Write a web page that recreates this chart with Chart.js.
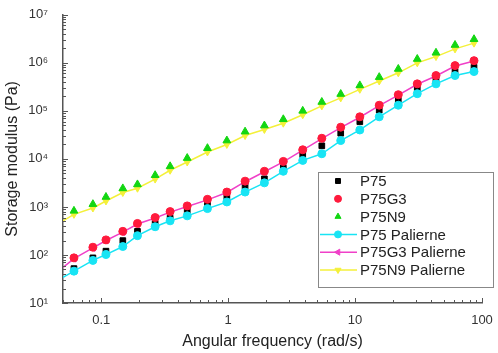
<!DOCTYPE html>
<html>
<head>
<meta charset="utf-8">
<script src="https://cdn.jsdelivr.net/npm/chart.js@4.4.0/dist/chart.umd.min.js"></script>
<style>
  html, body { margin: 0; padding: 0; background: #fff; }
  canvas { display: block; }
</style>
</head>
<body>
<canvas id="myChart" width="498" height="353"></canvas>
<script>
// angular frequency (rad/s) of the measured points
const freq = [0.061, 0.086, 0.109, 0.148, 0.193, 0.266, 0.349, 0.476, 0.687, 0.977,
  1.36, 1.93, 2.72, 3.87, 5.47, 7.71, 10.9, 15.5, 21.9, 30.9, 43.4, 61.3, 86.5];
// model curves start at the left edge of the axis
const freqModel = [0.05, 0.061, 0.086, 0.109, 0.148, 0.193, 0.266, 0.349, 0.476, 0.687, 0.977,
  1.36, 1.93, 2.72, 3.87, 5.47, 7.71, 10.9, 15.5, 21.9, 30.9, 43.4, 61.3, 86.5];

const p75 = [52, 87, 120, 199, 310, 453, 585, 828, 1190, 1560, 2710, 3840, 6460, 12200,
  18700, 34200, 59300, 103000, 166000, 298000, 451000, 659000, 808000];
const p75g3 = [87, 145, 206, 310, 453, 601, 800, 1050, 1440, 2040, 3440, 5520, 8870, 15500,
  26900, 45700, 75200, 131000, 217000, 365000, 544000, 875000, 1110000];
const p75n9 = [828, 1140, 1610, 2430, 2940, 4570, 7000, 10400, 16700, 24100, 36900, 49500,
  66800, 100000, 153000, 224000, 339000, 503000, 745000, 1200000, 1620000, 2350000, 3100000];

const p75Pal = [34, 46, 77, 102, 150, 252, 387, 514, 652, 923, 1270, 2040, 3170, 5520, 9310,
  12800, 24100, 40000, 75200, 131000, 228000, 365000, 544000, 659000];
const p75g3Pal = [55, 84, 140, 200, 300, 440, 590, 780, 1020, 1400, 2000, 3350, 5400, 8700,
  15200, 26300, 44800, 73700, 128000, 213000, 358000, 533000, 858000, 1090000];
const p75n9Pal = [514, 700, 950, 1330, 2000, 2450, 3800, 5800, 8600, 13900, 20000, 30600,
  41000, 55400, 83000, 127000, 186000, 281000, 418000, 620000, 1000000, 1350000, 1950000, 2570000];

const xTicks = [0.1, 1, 10, 100];
const yTicks = [10, 100, 1000, 10000, 100000, 1000000, 10000000];
const sup = ['⁰', '¹', '²', '³', '⁴', '⁵', '⁶', '⁷'];

const FONT = "'Liberation Sans', Arial, 'DejaVu Sans', sans-serif";

function pts(xs, ys) {
  return ys.map((v, i) => ({ x: xs[i], y: v }));
}

const series = [
  { label: 'P75', data: pts(freq, p75), color: '#000000', style: 'rect', rot: 0, line: false, order: 3, r: 4 },
  { label: 'P75G3', data: pts(freq, p75g3), color: '#ff1a3c', style: 'circle', rot: 0, line: false, order: 1, r: 4 },
  { label: 'P75N9', data: pts(freq, p75n9), color: '#12d612', style: 'triangle', rot: 0, line: false, order: 0, r: 4.5 },
  { label: 'P75 Palierne', data: pts(freqModel, p75Pal), color: '#18e4f4', style: 'circle', rot: 0, line: true, order: 2, r: 4 },
  { label: 'P75G3 Palierne', data: pts(freqModel, p75g3Pal), color: '#f040c8', style: 'triangle', rot: -90, line: true, order: 4, r: 4 },
  { label: 'P75N9 Palierne', data: pts(freqModel, p75n9Pal), color: '#f4f03a', style: 'triangle', rot: 180, line: true, order: 5, r: 4 }
];

const datasets = series.map(s => ({
  label: s.label,
  data: s.data,
  showLine: s.line,
  borderColor: s.color,
  backgroundColor: s.color,
  borderWidth: 1.5,
  pointStyle: s.style,
  pointRotation: s.rot,
  pointRadius: s.line ? (c => c.dataIndex === 0 ? 0 : s.r) : s.r,
  pointBorderWidth: 1,
  order: s.order
}));

// inward major/minor ticks on the log axes
const axisTicks = {
  id: 'axisTicks',
  afterDraw(chart) {
    const { ctx, chartArea: a, scales: { x, y } } = chart;
    ctx.save();
    ctx.strokeStyle = '#555';
    ctx.lineWidth = 1;
    ctx.beginPath();
    for (let d = 0.01; d < 100; d *= 10) {
      for (let m = 1; m < 10; m++) {
        const v = d * m;
        if (v < 0.05 || v > 100) continue;
        const px = Math.round(x.getPixelForValue(v)) + 0.5;
        const len = m === 1 ? 5 : 3;
        ctx.moveTo(px, a.bottom);
        ctx.lineTo(px, a.bottom - len);
      }
    }
    const px100 = Math.round(x.getPixelForValue(100)) + 0.5;
    ctx.moveTo(px100, a.bottom); ctx.lineTo(px100, a.bottom - 5);
    for (let d = 10; d <= 1e7; d *= 10) {
      for (let m = 1; m < 10; m++) {
        const v = d * m;
        if (v > 1e7) continue;
        const py = Math.round(y.getPixelForValue(v)) + 0.5;
        const len = m === 1 ? 5 : 3;
        ctx.moveTo(a.left, py);
        ctx.lineTo(a.left + len, py);
      }
    }
    ctx.stroke();
    ctx.restore();
  }
};

// boxed legend inside the plot, lower right
const boxLegend = {
  id: 'boxLegend',
  afterDraw(chart) {
    const ctx = chart.ctx;
    const bx = 318, by = 172, bw = 175, bh = 115;
    ctx.save();
    ctx.fillStyle = '#fff';
    ctx.fillRect(bx, by, bw, bh);
    ctx.strokeStyle = '#888';
    ctx.lineWidth = 1;
    ctx.strokeRect(bx + 0.5, by + 0.5, bw, bh);
    ctx.font = '15px ' + FONT;
    ctx.textBaseline = 'middle';
    series.forEach((s, i) => {
      const ry = 181 + i * 17.8;
      if (s.line) {
        ctx.strokeStyle = s.color;
        ctx.lineWidth = 1.5;
        ctx.beginPath();
        ctx.moveTo(320, ry);
        ctx.lineTo(357, ry);
        ctx.stroke();
      }
      ctx.fillStyle = s.color;
      ctx.strokeStyle = s.color;
      ctx.lineWidth = 1;
      Chart.helpers.drawPoint(ctx, {
        pointStyle: s.style, rotation: s.rot, radius: 3.5, borderWidth: 1
      }, 338, ry);
      ctx.fillStyle = '#222';
      ctx.fillText(s.label, 360, ry + 1);
    });
    ctx.restore();
  }
};

new Chart(document.getElementById('myChart'), {
  type: 'scatter',
  data: { datasets },
  options: {
    responsive: false,
    animation: false,
    layout: { padding: { left: 0, right: 16, top: 12, bottom: 0 } },
    plugins: { legend: { display: false }, tooltip: { enabled: false } },
    scales: {
      x: {
        type: 'logarithmic',
        min: 0.05,
        max: 100,
        afterBuildTicks: s => { s.ticks = xTicks.map(v => ({ value: v })); },
        afterFit: s => { s.height = 50; },
        grid: { display: false },
        border: { display: true, color: '#555', width: 1.5 },
        ticks: {
          autoSkip: false, maxRotation: 0, padding: 2, color: '#333',
          font: { family: FONT, size: 13 },
          callback: v => String(v)
        },
        title: {
          display: true, text: 'Angular frequency (rad/s)', color: '#222',
          font: { family: FONT, size: 16 }, padding: 2
        }
      },
      y: {
        type: 'logarithmic',
        min: 10,
        max: 1e7,
        afterBuildTicks: s => { s.ticks = yTicks.map(v => ({ value: v })); },
        afterFit: s => { s.width = 63; },
        grid: { display: false },
        border: { display: true, color: '#555', width: 1.5 },
        ticks: {
          autoSkip: false, padding: 7, color: '#333',
          font: { family: FONT, size: 13 },
          callback: v => '10' + sup[Math.round(Math.log10(v))]
        },
        title: {
          display: true, text: 'Storage modulus (Pa)', color: '#222',
          font: { family: FONT, size: 16 }, padding: 3
        }
      }
    }
  },
  plugins: [axisTicks, boxLegend]
});
</script>
</body>
</html>
